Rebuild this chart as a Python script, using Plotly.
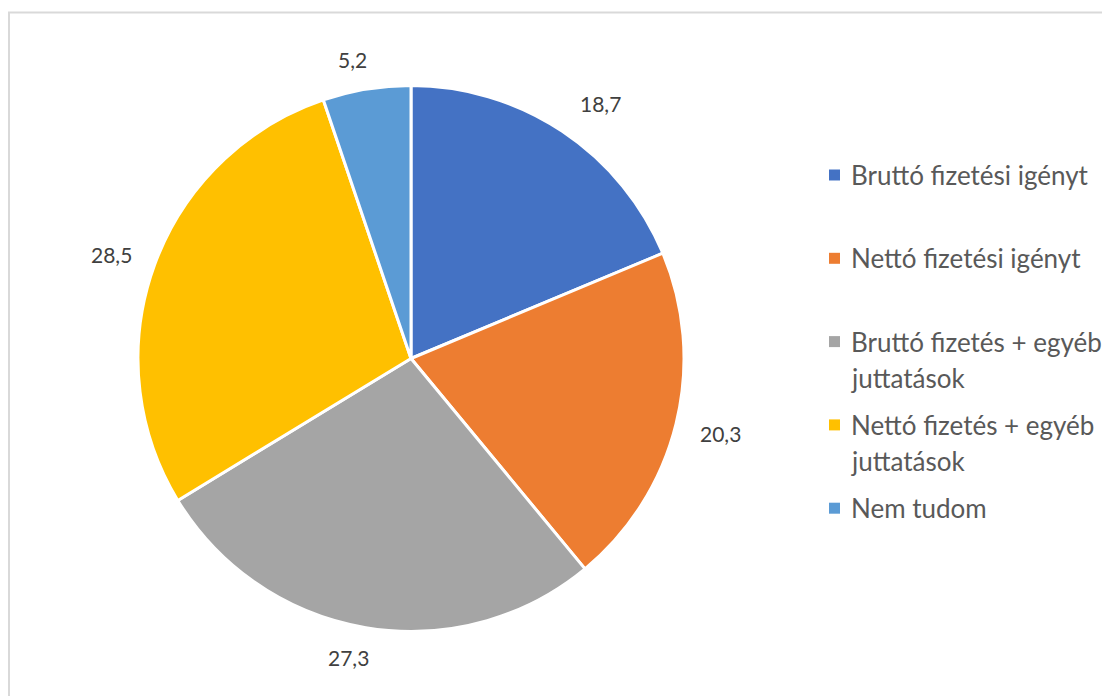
import math
import plotly.graph_objects as go

# ---- data ----
categories = [
    "Bruttó fizetési igényt",
    "Nettó fizetési igényt",
    "Bruttó fizetés + egyéb juttatások",
    "Nettó fizetés + egyéb juttatások",
    "Nem tudom",
]
legend_lines = [
    ["Bruttó fizetési igényt"],
    ["Nettó fizetési igényt"],
    ["Bruttó fizetés + egyéb", "juttatások"],
    ["Nettó fizetés + egyéb", "juttatások"],
    ["Nem tudom"],
]
values = [18.7, 20.3, 27.3, 28.5, 5.2]
value_labels = ["18,7", "20,3", "27,3", "28,5", "5,2"]
colors = ["#4472C4", "#ED7D31", "#A5A5A5", "#FFC000", "#5B9BD5"]

# ---- layout constants (page pixel coordinates) ----
OFF = 8                      # page body margin
W, H = 1110 - OFF, 696 - OFF  # figure size
CX, CY, R = 411, 358.5, 273
FONT = "Lato, 'Open Sans', sans-serif"
LABEL_COLOR = "#404040"
LEGEND_COLOR = "#595959"
# small placement tweaks of the outside labels (px), like Excel's fitting
label_nudge = [(16, 5), (2, -1), (-12, -2), (-2, 4), (-9, 2)]


def px(x):
    return (x - OFF) / W


def py(y):
    return 1 - (y - OFF) / H


fig = go.Figure()
fig.add_trace(go.Pie(
    labels=categories,
    values=values,
    sort=False,
    direction="clockwise",
    rotation=0,
    marker=dict(colors=colors, line=dict(color="white", width=3)),
    textinfo="none",
    hoverinfo="label+value",
    showlegend=False,
    domain=dict(x=[px(CX - R), px(CX + R)],
                y=[py(CY + R), py(CY - R)]),
))

annotations = []
# data labels placed outside each slice, derived from slice mid-angles
total = sum(values)
cum = 0.0
for v, lab, (nx, ny) in zip(values, value_labels, label_nudge):
    mid = (cum + v / 2) / total * 2 * math.pi
    cum += v
    s, c = math.sin(mid), math.cos(mid)
    d = R + 20 + abs(s) * 22 + abs(c) * 9
    annotations.append(dict(
        x=px(CX + d * s + nx), y=py(CY - d * c + ny), xref="paper", yref="paper",
        text=lab, showarrow=False, xanchor="center", yanchor="middle",
        font=dict(family=FONT, size=21, color=LABEL_COLOR),
    ))

# legend drawn as text + square markers
LEG_X_MARK = 834.5
LEG_X_TEXT = 849
LEG_Y0 = 175
LEG_STEP = 83.3
LEG_LINE = 36
shapes = []
for i, (lines, col) in enumerate(zip(legend_lines, colors)):
    y0 = LEG_Y0 + LEG_STEP * i
    shapes.append(dict(
        type="rect", xref="paper", yref="paper",
        x0=px(LEG_X_MARK - 5.5), x1=px(LEG_X_MARK + 5.5),
        y0=py(y0 + 5.5), y1=py(y0 - 5.5),
        fillcolor=col, line=dict(width=0),
    ))
    for j, ln in enumerate(lines):
        annotations.append(dict(
            x=px(LEG_X_TEXT), y=py(y0 + j * LEG_LINE),
            xref="paper", yref="paper", text=ln, showarrow=False,
            xanchor="left", yanchor="middle",
            font=dict(family=FONT, size=26, color=LEGEND_COLOR),
        ))

# chart border (only top/left visible within the frame)
shapes.append(dict(
    type="rect", xref="paper", yref="paper",
    x0=px(9), x1=1.05, y0=-0.05, y1=py(12.5),
    line=dict(color="#D9D9D9", width=2), fillcolor="rgba(0,0,0,0)",
    layer="below",
))

fig.update_layout(
    width=W, height=H,
    margin=dict(l=0, r=0, t=0, b=0),
    paper_bgcolor="white",
    plot_bgcolor="white",
    annotations=annotations,
    shapes=shapes,
)

fig.write_html("out.html")
